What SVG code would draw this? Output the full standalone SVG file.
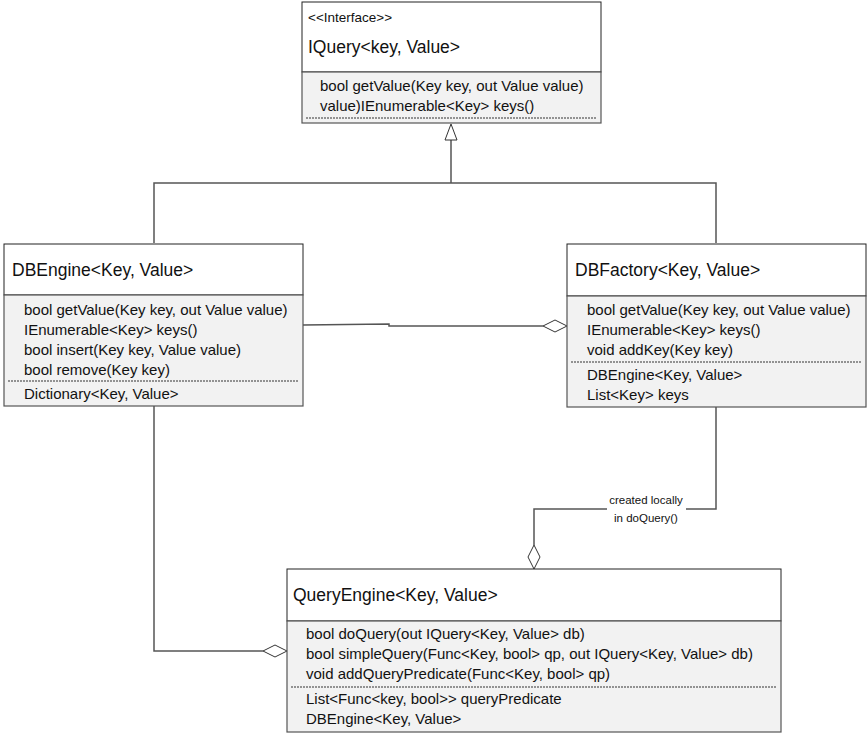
<svg xmlns="http://www.w3.org/2000/svg" width="868" height="737" viewBox="0 0 868 737">
<style>
.hd{fill:#fff;stroke:#222;stroke-width:1}
.cp{fill:#f2f2f2;stroke:#555;stroke-width:1.2}
.dt{stroke:#333;stroke-width:1;stroke-dasharray:2,1}
.t{font-family:"Liberation Sans",Arial,sans-serif;font-size:15px;fill:#111}
.tt{font-family:"Liberation Sans",Arial,sans-serif;font-size:17.5px;fill:#111}
.ts{font-family:"Liberation Sans",Arial,sans-serif;font-size:13.5px;fill:#111}
.lb{font-family:"Liberation Sans",Arial,sans-serif;font-size:11.5px;fill:#111}
.c{fill:none;stroke:#555;stroke-width:1.5}
.dm{fill:#fff;stroke:#333;stroke-width:1}
</style>
<rect width="868" height="737" fill="#fff"/>
<g id="connectors">
<polyline class="c" points="451,140 451,183"/>
<polyline class="c" points="154,243 154,183 716,183 716,243"/>
<polygon class="dm" points="451,124 457,140 445,140"/>
<polyline class="c" points="303,325 389,324 389,326 543,326"/>
<polygon class="dm" points="543,326 555,320 567,326 555,332"/>
<polyline class="c" points="716,407 716,509 534,509 534,545"/>
<polygon class="dm" points="534,545 540,557 534,569 528,557"/>
<rect x="607" y="492" width="79" height="34" fill="#fff"/>
<text class="lb" x="646" y="504" text-anchor="middle">created locally</text>
<text class="lb" x="646" y="522" text-anchor="middle">in doQuery()</text>
<polyline class="c" points="154,406 154,651 263,651"/>
<polygon class="dm" points="263,651 275,645 287,651 275,657"/>
</g>
<g id="IQuery">
<rect class="hd" x="302" y="2" width="299" height="70"/>
<rect class="cp" x="302" y="72" width="299" height="51"/>
<line class="dt" x1="306" y1="118" x2="597" y2="118"/>
<text class="ts" x="308" y="22">&lt;&lt;Interface&gt;&gt;</text>
<text class="tt" x="308" y="53">IQuery&lt;key, Value&gt;</text>
<text class="t" x="320" y="91">bool getValue(Key key, out Value value)</text>
<text class="t" x="320" y="111">value)IEnumerable&lt;Key&gt; keys()</text>
</g>
<g id="DBEngine">
<rect class="hd" x="4" y="244" width="299" height="51"/>
<rect class="cp" x="4" y="295" width="299" height="111"/>
<line class="dt" x1="8" y1="381" x2="299" y2="381"/>
<text class="tt" x="12" y="276">DBEngine&lt;Key, Value&gt;</text>
<text class="t" x="24" y="315">bool getValue(Key key, out Value value)</text>
<text class="t" x="24" y="335">IEnumerable&lt;Key&gt; keys()</text>
<text class="t" x="24" y="355">bool insert(Key key, Value value)</text>
<text class="t" x="24" y="375">bool remove(Key key)</text>
<text class="t" x="24" y="399">Dictionary&lt;Key, Value&gt;</text>
</g>
<g id="DBFactory">
<rect class="hd" x="567" y="244" width="299" height="52"/>
<rect class="cp" x="567" y="296" width="299" height="111"/>
<line class="dt" x1="571" y1="362" x2="862" y2="362"/>
<text class="tt" x="575" y="276">DBFactory&lt;Key, Value&gt;</text>
<text class="t" x="587" y="315">bool getValue(Key key, out Value value)</text>
<text class="t" x="587" y="335">IEnumerable&lt;Key&gt; keys()</text>
<text class="t" x="587" y="355">void addKey(Key key)</text>
<text class="t" x="587" y="380">DBEngine&lt;Key, Value&gt;</text>
<text class="t" x="587" y="400">List&lt;Key&gt; keys</text>
</g>
<g id="QueryEngine">
<rect class="hd" x="287" y="569" width="494" height="52"/>
<rect class="cp" x="287" y="621" width="494" height="111"/>
<line class="dt" x1="291" y1="687" x2="777" y2="687"/>
<text class="tt" x="293" y="601">QueryEngine&lt;Key, Value&gt;</text>
<text class="t" x="306" y="639">bool doQuery(out IQuery&lt;Key, Value&gt; db)</text>
<text class="t" x="306" y="659">bool simpleQuery(Func&lt;Key, bool&gt; qp, out IQuery&lt;Key, Value&gt; db)</text>
<text class="t" x="306" y="679">void addQueryPredicate(Func&lt;Key, bool&gt; qp)</text>
<text class="t" x="306" y="704">List&lt;Func&lt;key, bool&gt;&gt; queryPredicate</text>
<text class="t" x="306" y="724">DBEngine&lt;Key, Value&gt;</text>
</g>
</svg>
